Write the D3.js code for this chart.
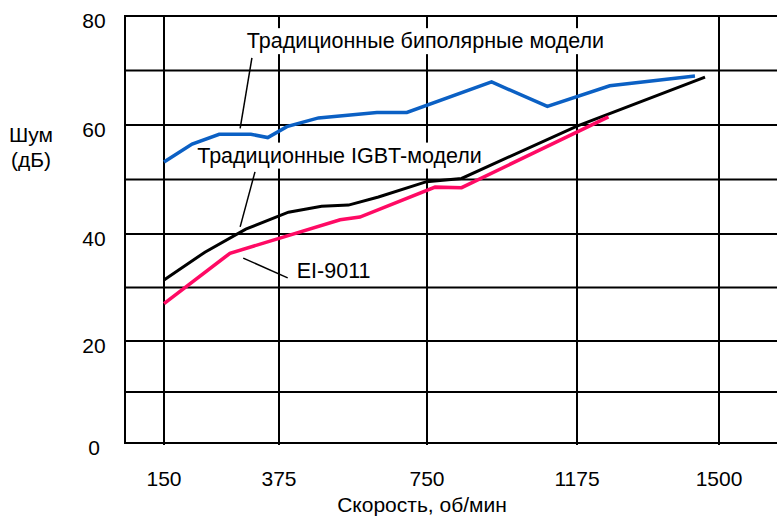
<!DOCTYPE html>
<html>
<head>
<meta charset="utf-8">
<script src="https://cdn.jsdelivr.net/npm/d3@7"></script>
<style>
  body { margin: 0; background: #fff; }
  text { font-family: "Liberation Sans", Arial, sans-serif; font-size: 21px; fill: #000; }
</style>
</head>
<body>
<script>
// axis values
const speedTicks = [150, 375, 750, 1175, 1500];
const noiseTicks = [0, 20, 40, 60, 80];
const gridNoise = [0, 10, 20, 30, 40, 50, 60, 70, 80];

// series (speed in rpm, noise in dB)
const bipolarRpm = [150, 205, 258, 320, 353, 395, 475, 623, 699, 933, 1091, 1250, 1445];
const bipolarDb  = [53.2, 56.5, 58.3, 58.3, 57.7, 59.7, 61.3, 62.3, 62.3, 67.9, 63.4, 67.2, 69.0];

const igbtRpm = [150, 230, 310, 399, 483, 551, 627, 749, 848, 1175, 1468];
const igbtDb  = [31.4, 36.6, 40.9, 44.0, 45.1, 45.3, 46.8, 49.6, 50.2, 59.8, 68.8];

const eiRpm = [150, 279, 530, 580, 773, 848, 1247];
const eiDb  = [27.0, 36.4, 42.6, 43.1, 48.6, 48.5, 61.5];

const seriesNames = ["Традиционные биполярные модели", "Традиционные IGBT-модели", "EI-9011"];
const seriesColors = ["#0b60c4", "#000000", "#ff0a64"];

const width = 777, height = 521;
const svg = d3.select('body').append('svg')
  .attr('width', width)
  .attr('height', height);

// the speed axis is not linear in the picture, so piecewise scales
const x = d3.scaleLinear().domain(speedTicks).range([164, 279, 427, 577, 719]);
const y = d3.scaleLinear().domain(noiseTicks).range([443, 341, 234, 125, 16]);
const left = 125, right = 780;

// grid
const grid = svg.append('g').attr('stroke', '#000').attr('stroke-width', 2);
grid.selectAll('.h').data(gridNoise).join('line')
  .attr('class', 'h')
  .attr('x1', left).attr('x2', right)
  .attr('y1', d => y(d)).attr('y2', d => y(d));
grid.selectAll('.v').data(speedTicks).join('line')
  .attr('class', 'v')
  .attr('x1', d => x(d)).attr('x2', d => x(d))
  .attr('y1', y(80)).attr('y2', y(0) + 2);
grid.append('line')
  .attr('x1', left).attr('x2', left)
  .attr('y1', y(80) - 1).attr('y2', y(0) + 1);

// tick labels
svg.selectAll('.xt').data(speedTicks).join('text')
  .attr('class', 'xt')
  .attr('x', d => x(d))
  .attr('y', 486)
  .attr('text-anchor', 'middle')
  .text(d => d);
svg.selectAll('.yt').data(noiseTicks).join('text')
  .attr('class', 'yt')
  .attr('x', 94)
  .attr('y', d => y(d) + 12)
  .attr('text-anchor', 'middle')
  .text(d => d);

// axis titles
svg.append('text').attr('x', 31).attr('y', 142).attr('text-anchor', 'middle').text('Шум');
svg.append('text').attr('x', 31).attr('y', 167).attr('text-anchor', 'middle').text('(дБ)');
svg.append('text').attr('x', 422).attr('y', 512).attr('text-anchor', 'middle').text('Скорость, об/мин');

// annotations: text start, leader line ends (in rpm / dB)
const notes = [
  { text: seriesNames[0], at: [312, 74.1], line: [[322, 72.3], [299, 59.4]], box: true },
  { text: seriesNames[1], at: [215, 53.1], line: [[328, 51.4], [299, 41.3]], box: true },
  { text: seriesNames[2], at: [420, 31.8], line: [[305, 35.5], [397, 31.8]], box: false }
];

notes.forEach(n => {
  const t = svg.append('text')
    .attr('x', x(n.at[0]))
    .attr('y', y(n.at[1]))
    .style('font-size', '21.5px')
    .text(n.text);
  if (n.box) {
    const b = t.node().getBBox();
    svg.insert('rect', function() { return t.node(); })
      .attr('x', b.x - 2).attr('y', b.y - 1)
      .attr('width', b.width + 4).attr('height', b.height + 2)
      .attr('fill', '#fff');
  }
  svg.append('line')
    .attr('x1', x(n.line[0][0])).attr('y1', y(n.line[0][1]))
    .attr('x2', x(n.line[1][0])).attr('y2', y(n.line[1][1]))
    .attr('stroke', '#000')
    .attr('stroke-width', 1.5);
});

// series lines
const series = [
  { rpm: bipolarRpm, db: bipolarDb, w: 3.5 },
  { rpm: igbtRpm, db: igbtDb, w: 3 },
  { rpm: eiRpm, db: eiDb, w: 3.5 }
];
const line = d3.line().x(d => x(d[0])).y(d => y(d[1]));

svg.selectAll('.series').data(series).join('path')
  .attr('class', 'series')
  .attr('fill', 'none')
  .attr('stroke', (d, i) => seriesColors[i])
  .attr('stroke-width', d => d.w)
  .attr('d', d => line(d3.zip(d.rpm, d.db)));
</script>
</body>
</html>
